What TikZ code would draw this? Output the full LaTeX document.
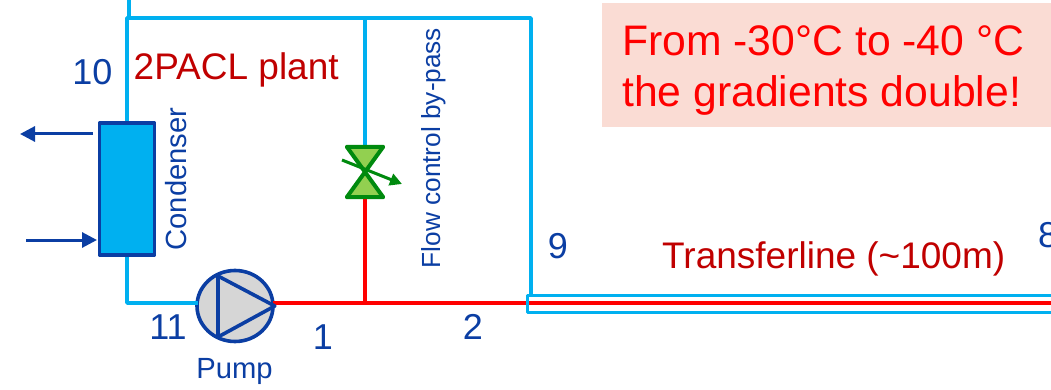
\documentclass[tikz,border=0pt]{standalone}
\usepackage{fontspec}
\setmainfont{Liberation Sans}
\usetikzlibrary{calc}
\usetikzlibrary{positioning}
\usetikzlibrary{shapes.geometric}
\usetikzlibrary{arrows.meta}
\definecolor{pipecold}{HTML}{00B0F0}
\definecolor{pipehot}{HTML}{FF0000}
\definecolor{labelblue}{HTML}{0B3EA3}
\definecolor{labelred}{HTML}{C00000}
\definecolor{valvegreen}{HTML}{008A0E}
\definecolor{valvefill}{HTML}{92D050}
\definecolor{notepink}{HTML}{FADCD4}
\newcommand{\fs}[1]{\fontsize{#1}{#1}\selectfont}
\tikzset{
  coldpipe/.style={pipecold, line width=3.6pt},
  hotpipe/.style={pipehot, line width=3.6pt},
  statenum/.style={font=\fs{36}, text=labelblue, inner sep=0pt},
  tag/.style={font=\fs{29.2}, text=labelblue, inner sep=0pt},
  redtag/.style={font=\fs{37}, text=labelred, inner sep=0pt},
  waterarrow/.style={labelblue, line width=3pt, -{Triangle[length=15pt,width=15pt]}},
}

\begin{document}
\begin{tikzpicture}[x=1pt, y=-1pt, line join=round]
  \useasboundingbox (0,0) rectangle (1051,390);
  % note
  \node[fill=notepink, minimum width=449pt, minimum height=124pt, anchor=north west, inner sep=0pt] (note) at (602,3) {};
  \node[font=\fs{42.7}, text=pipehot, anchor=base west, inner sep=0pt] (noteone) at (622,55.5) {From -30°C to -40 °C};
  \node[font=\fs{42.7}, text=pipehot, anchor=base west, inner sep=0pt] (notetwo) at (622,106.5) {the gradients double!};

  \coordinate (topleft) at (127,18);
  \coordinate (topmid) at (365,18);
  \coordinate (topright) at (531,18);
  \coordinate (stubtop) at (129,-2);
  \coordinate (stubend) at (129,16);
  \coordinate (bottomleft) at (127,303);
  \coordinate (pumpin) at (198,303);
  \coordinate (tee) at (365,303);
  \coordinate (tlentry) at (531,295);
  \coordinate (tlend) at (1058,303);
  \coordinate (waterout) at (20,134);
  \coordinate (waterin) at (26,240);

  \node[draw=labelblue, fill=pipecold, line width=3.6pt, minimum width=55pt, minimum height=132pt, inner sep=0pt] (condenser) at (127,189) {};
  \node[ellipse, draw=labelblue, fill=black!16, line width=3.6pt, minimum width=76pt, minimum height=71pt, inner sep=0pt] (pump) at (235,306) {};
  \node[minimum width=36pt, minimum height=50pt, inner sep=0pt] (valve) at (365,172) {};

  % pipes
  \draw[coldpipe] (stubtop)--(stubend);
  \draw[coldpipe] (condenser.north)--(topleft)--(topright)--(tlentry);
  \draw[coldpipe] (topmid)--(valve.north);
  \draw[coldpipe] (condenser.south)--(bottomleft)--(pumpin);
  \draw[hotpipe] (273,303)--(tlend);
  \draw[hotpipe] (valve.south)--(tee);
  \draw[pipecold, line width=3.6pt] (1058,295.5)--(527.5,295.5)--(527.5,312.5)--(1058,312.5);

  % pump triangle
  \draw[labelblue, line width=3.6pt] (218,276)--(218,337)--(pump.east)--cycle;

  % valve
  \fill[valvefill, draw=valvegreen, line width=4pt] (valve.north west)--(valve.north east)--(valve.south west)--(valve.south east)--cycle;
  \draw[valvegreen, line width=3pt, -{Triangle[length=12pt,width=12pt]}] (342,160)--(402,184);

  % water
  \draw[waterarrow] (93,134)--(waterout);
  \draw[waterarrow] (waterin)--(97,240);

  % labels
  \node[statenum] (ten) at (92.5,72) {10};
  \node[statenum] (eleven) at (168,327) {11};
  \node[statenum] (one) at (323,337) {1};
  \node[statenum] (two) at (473,327) {2};
  \node[statenum] (nine) at (558,246) {9};
  \node[statenum, anchor=west] (eight) at (1038,235) {8};
  \node[tag, rotate=90] (condname) at (176,179) {Condenser};
  \node[tag, font=\fs{26.2}, rotate=90] (bypass) at (434,148) {Flow control by-pass};
  \node[tag] (pumpname) at (234.5,371) {Pump};
  \node[redtag, anchor=base west] (plant) at (133.5,80) {2PACL plant};
  \node[redtag, anchor=base west] (transfer) at (662,268) {Transferline (\char`~100m)};
\end{tikzpicture}
\end{document}
